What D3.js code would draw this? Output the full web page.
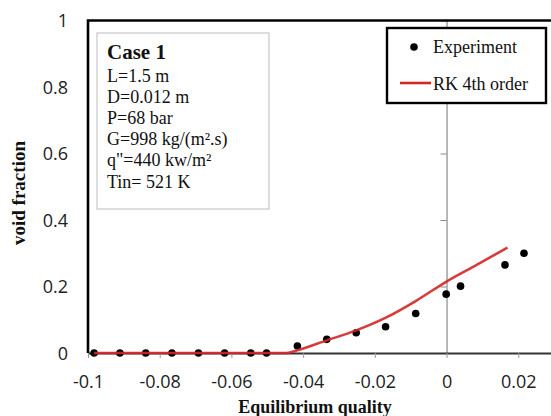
<!DOCTYPE html>
<html>
<head>
<meta charset="UTF-8">
<title>Void fraction - Case 1</title>
<script src="https://cdn.jsdelivr.net/npm/d3@7"></script>
<style>
  body { margin: 0; background: #fff; }
  svg { display: block; }
</style>
</head>
<body>
<div id="chart"></div>
<script>
// experimental points
var expX = [-0.0983, -0.0911, -0.0839, -0.0766, -0.0692, -0.0619, -0.0546, -0.0502,
            -0.0416, -0.0334, -0.0252, -0.0170, -0.0086, -0.0001, 0.0039, 0.0163, 0.0216];
var expY = [0, 0, 0, 0, 0, 0, 0, 0,
            0.021, 0.041, 0.061, 0.079, 0.119, 0.177, 0.201, 0.265, 0.300];

// RK 4th order model curve
var rkX = [-0.0983, -0.0700, -0.0502, -0.0446, -0.0416, -0.0334, -0.0252, -0.0168, -0.0085, 0, 0.0084, 0.0170];
var rkY = [0, 0, 0, 0, 0.008, 0.038, 0.068, 0.107, 0.157, 0.215, 0.265, 0.317];

var xTicks = [-0.1, -0.08, -0.06, -0.04, -0.02, 0, 0.02];
var xTickLabels = ["-0.1", "-0.08", "-0.06", "-0.04", "-0.02", "0", "0.02"];
var yTicks = [0, 0.2, 0.4, 0.6, 0.8, 1];
var yTickLabels = ["0", "0.2", "0.4", "0.6", "0.8", "1"];

var caseTitle = "Case 1";
var caseLines = ["L=1.5 m", "D=0.012 m", "P=68 bar", "G=998 kg/(m\u00B2.s)", "q\"=440 kw/m\u00B2", "Tin= 521 K"];
var legendNames = ["Experiment", "RK 4th order"];

var W = 551, H = 416;
var serif = "'Liberation Serif', 'Times New Roman', serif";
var sans = "'Open Sans', 'Noto Sans', sans-serif";
var red = "#d42626";

var svg = d3.select("#chart").append("svg")
    .attr("width", W).attr("height", H);

var x = d3.scaleLinear().domain([-0.1, 0.03]).range([88, 554.1]);
var y = d3.scaleLinear().domain([0, 1]).range([353, 20.5]);

// gray vertical axis through x = 0
var yAxis0 = svg.append("g")
    .attr("transform", "translate(" + x(0) + ",0)")
    .call(d3.axisLeft(y).tickValues(yTicks.slice(1)).tickSize(6).tickSizeOuter(0).tickFormat(""));
yAxis0.select(".domain").attr("stroke", "#8a8a8a").attr("stroke-width", 1.2);
yAxis0.selectAll(".tick line").attr("stroke", "#8a8a8a");

// y tick labels on the left
var yLab = svg.append("g")
    .attr("transform", "translate(88,0)")
    .call(d3.axisLeft(y).tickValues(yTicks).tickSize(0).tickPadding(20)
        .tickFormat(function (d, i) { return yTickLabels[i]; }));
yLab.select(".domain").remove();
yLab.selectAll("text").attr("font-family", sans).attr("font-size", 18).attr("fill", "#222")
    .attr("dy", "0.36em");

// x axis
var xAxis = svg.append("g")
    .attr("transform", "translate(0," + y(0) + ")")
    .call(d3.axisBottom(x).tickValues(xTicks).tickSize(5).tickSizeOuter(0)
        .tickFormat(function (d, i) { return xTickLabels[i]; }));
xAxis.select(".domain").attr("stroke", "#333").attr("stroke-width", 2);
xAxis.selectAll(".tick line").attr("stroke", "#9a9a9a");
xAxis.selectAll("text").attr("font-family", sans).attr("font-size", 18).attr("fill", "#222")
    .attr("y", 35).attr("dy", 0);

// plot border (left and top)
svg.append("path")
    .attr("d", "M" + x(-0.1) + "," + y(0) + "V" + y(1) + "H" + W)
    .attr("fill", "none").attr("stroke", "#000").attr("stroke-width", 2.6);

// info box
var info = svg.append("g");
info.append("rect").attr("x", 97).attr("y", 33).attr("width", 172).attr("height", 176)
    .attr("fill", "#fff").attr("stroke", "#bdbdbd").attr("stroke-width", 1);
info.append("text").attr("x", 107).attr("y", 59).text(caseTitle)
    .attr("font-family", serif).attr("font-weight", "bold").attr("font-size", 21).attr("fill", "#111");
info.selectAll("text.line").data(caseLines).enter().append("text")
    .attr("class", "line")
    .attr("x", 107)
    .attr("y", function (d, i) { return 82 + i * 21.1; })
    .attr("font-family", serif).attr("font-size", 18).attr("fill", "#111")
    .text(function (d) { return d; });

// experimental points
var pts = expX.map(function (d, i) { return [d, expY[i]]; });
svg.append("g").selectAll("circle").data(pts).enter().append("circle")
    .attr("cx", function (d) { return x(d[0]); })
    .attr("cy", function (d) { return y(d[1]); })
    .attr("r", 3.8).attr("fill", "#000");

// RK curve
var rk = rkX.map(function (d, i) { return [d, rkY[i]]; });
svg.append("path").datum(rk)
    .attr("d", d3.line().x(function (d) { return x(d[0]); }).y(function (d) { return y(d[1]); })
        .curve(d3.curveMonotoneX))
    .attr("fill", "none").attr("stroke", red).attr("stroke-width", 2.6).attr("stroke-opacity", 0.9);

// legend
var leg = svg.append("g");
leg.append("rect").attr("x", 387).attr("y", 28).attr("width", 159).attr("height", 75)
    .attr("fill", "#fff").attr("stroke", "#000").attr("stroke-width", 2.4);
leg.append("circle").attr("cx", 414).attr("cy", 47).attr("r", 3.8).attr("fill", "#000");
leg.append("line").attr("x1", 400).attr("x2", 431).attr("y1", 83).attr("y2", 83)
    .attr("stroke", red).attr("stroke-width", 2.6);
leg.selectAll("text").data(legendNames).enter().append("text")
    .attr("x", 433)
    .attr("y", function (d, i) { return 53 + i * 36.5; })
    .attr("font-family", serif).attr("font-size", 18).attr("fill", "#111")
    .text(function (d) { return d; });

// axis titles
svg.append("text").attr("x", 315).attr("y", 413).attr("text-anchor", "middle")
    .attr("font-family", serif).attr("font-weight", "bold").attr("font-size", 18).attr("fill", "#111")
    .text("Equilibrium quality");
svg.append("text").attr("transform", "translate(25,193) rotate(-90)").attr("text-anchor", "middle")
    .attr("font-family", serif).attr("font-weight", "bold").attr("font-size", 19).attr("fill", "#111")
    .text("void fraction");
</script>
</body>
</html>
